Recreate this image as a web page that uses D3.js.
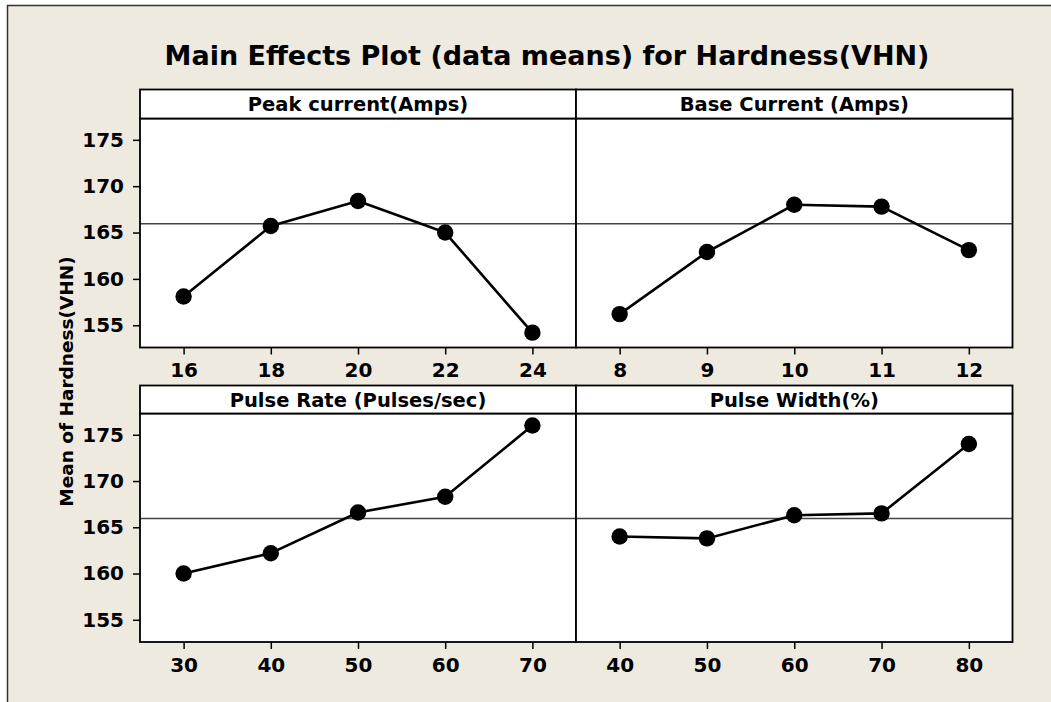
<!DOCTYPE html>
<html>
<head>
<meta charset="utf-8">
<script src="https://cdn.jsdelivr.net/npm/d3@7"></script>
<style>
  html, body { margin: 0; padding: 0; background: #ffffff; }
  svg { display: block; }
  text { font-family: "DejaVu Sans", Verdana, sans-serif; font-weight: bold; fill: #000; }
</style>
</head>
<body>
<svg id="chart" width="1051" height="702"></svg>
<script>
// ---- data ----
const title = "Main Effects Plot (data means) for Hardness(VHN)";
const yLabel = "Mean of Hardness(VHN)";
const factors = ["Peak current(Amps)", "Base Current (Amps)", "Pulse Rate (Pulses/sec)", "Pulse Width(%)"];
const levelsPeak = ["16", "18", "20", "22", "24"];
const levelsBase = ["8", "9", "10", "11", "12"];
const levelsRate = ["30", "40", "50", "60", "70"];
const levelsWidth = ["40", "50", "60", "70", "80"];
const meansPeak = [158.1, 165.7, 168.4, 165.0, 154.2];
const meansBase = [156.2, 162.9, 168.0, 167.8, 163.1];
const meansRate = [160.0, 162.2, 166.6, 168.3, 176.0];
const meansWidth = [164.0, 163.8, 166.3, 166.5, 174.0];
const overallMean = 165.95;
const yTicks = [155, 160, 165, 170, 175];
const yDomain = [152.6, 177.3];

// ---- layout ----
const svg = d3.select("#chart");
const W = 1051, H = 702;
const colX = [[140, 576], [576, 1012.5]];
const rows = [
  { stripTop: 89.5, plotTop: 118.5, plotBottom: 347.5 },
  { stripTop: 385.5, plotTop: 413.5, plotBottom: 642 }
];

// background with border
svg.append("rect").attr("x", 0).attr("y", 0).attr("width", W).attr("height", H).attr("fill", "#ffffff");
svg.append("rect").attr("x", 7.5).attr("y", 5.5).attr("width", W + 10).attr("height", H + 10)
  .attr("fill", "#eeeae0").attr("stroke", "#333").attr("stroke-width", 1.5);

// title
svg.append("text").attr("x", 547).attr("y", 65).attr("text-anchor", "middle")
  .style("font-size", "27px").text(title);

// y axis label
svg.append("text").attr("transform", "translate(73,381.5) rotate(-90)")
  .attr("text-anchor", "middle").style("font-size", "18.5px").text(yLabel);

const panels = [
  { name: factors[0], levels: levelsPeak, means: meansPeak, row: 0, col: 0 },
  { name: factors[1], levels: levelsBase, means: meansBase, row: 0, col: 1 },
  { name: factors[2], levels: levelsRate, means: meansRate, row: 1, col: 0 },
  { name: factors[3], levels: levelsWidth, means: meansWidth, row: 1, col: 1 }
];

panels.forEach(p => {
  const r = rows[p.row];
  const [x0, x1] = colX[p.col];
  const x = d3.scalePoint().domain(p.levels).range([x0, x1]).padding(0.5);
  const y = d3.scaleLinear().domain(yDomain).range([r.plotBottom, r.plotTop]);
  const g = svg.append("g");

  // plot area
  g.append("rect").attr("x", x0).attr("y", r.plotTop).attr("width", x1 - x0)
    .attr("height", r.plotBottom - r.plotTop).attr("fill", "#ffffff");

  // reference line
  g.append("line").attr("x1", x0).attr("x2", x1)
    .attr("y1", y(overallMean)).attr("y2", y(overallMean))
    .attr("stroke", "#444").attr("stroke-width", 1.3);

  // data line
  const pts = p.levels.map((l, i) => [x(l), y(p.means[i])]);
  g.append("path").attr("d", d3.line()(pts)).attr("fill", "none")
    .attr("stroke", "#000").attr("stroke-width", 2.6).attr("stroke-linejoin", "round");
  g.selectAll("circle.pt").data(p.levels).join("circle").attr("class", "pt")
    .attr("cx", d => x(d)).attr("cy", (d, i) => y(p.means[i])).attr("r", 8.2).attr("fill", "#000");

  // frames
  g.append("rect").attr("x", x0).attr("y", r.plotTop).attr("width", x1 - x0)
    .attr("height", r.plotBottom - r.plotTop).attr("fill", "none")
    .attr("stroke", "#000").attr("stroke-width", 1.8);
  g.append("rect").attr("x", x0).attr("y", r.stripTop).attr("width", x1 - x0)
    .attr("height", r.plotTop - r.stripTop).attr("fill", "#ffffff")
    .attr("stroke", "#000").attr("stroke-width", 1.8);
  g.append("text").attr("x", (x0 + x1) / 2).attr("y", r.stripTop + 21.5)
    .attr("text-anchor", "middle").style("font-size", "19.5px").text(p.name);

  // x axis
  const xa = g.append("g").attr("transform", `translate(0,${r.plotBottom})`)
    .call(d3.axisBottom(x).tickSize(7).tickPadding(8.5));
  xa.select(".domain").remove();
  xa.selectAll("line").attr("stroke", "#000").attr("stroke-width", 1.5);
  xa.selectAll("text").style("font-size", "20px").style("font-family", "DejaVu Sans").style("font-weight", "bold").attr("fill", "#000");

  // y axis (left column only)
  if (p.col === 0) {
    const ya = g.append("g").attr("transform", `translate(${x0},0)`)
      .call(d3.axisLeft(y).tickValues(yTicks).tickSize(7).tickPadding(9));
    ya.select(".domain").remove();
    ya.selectAll("line").attr("stroke", "#000").attr("stroke-width", 1.5);
    ya.selectAll("text").style("font-size", "20px").style("font-family", "DejaVu Sans").style("font-weight", "bold").attr("fill", "#000");
  }
});
</script>
</body>
</html>
